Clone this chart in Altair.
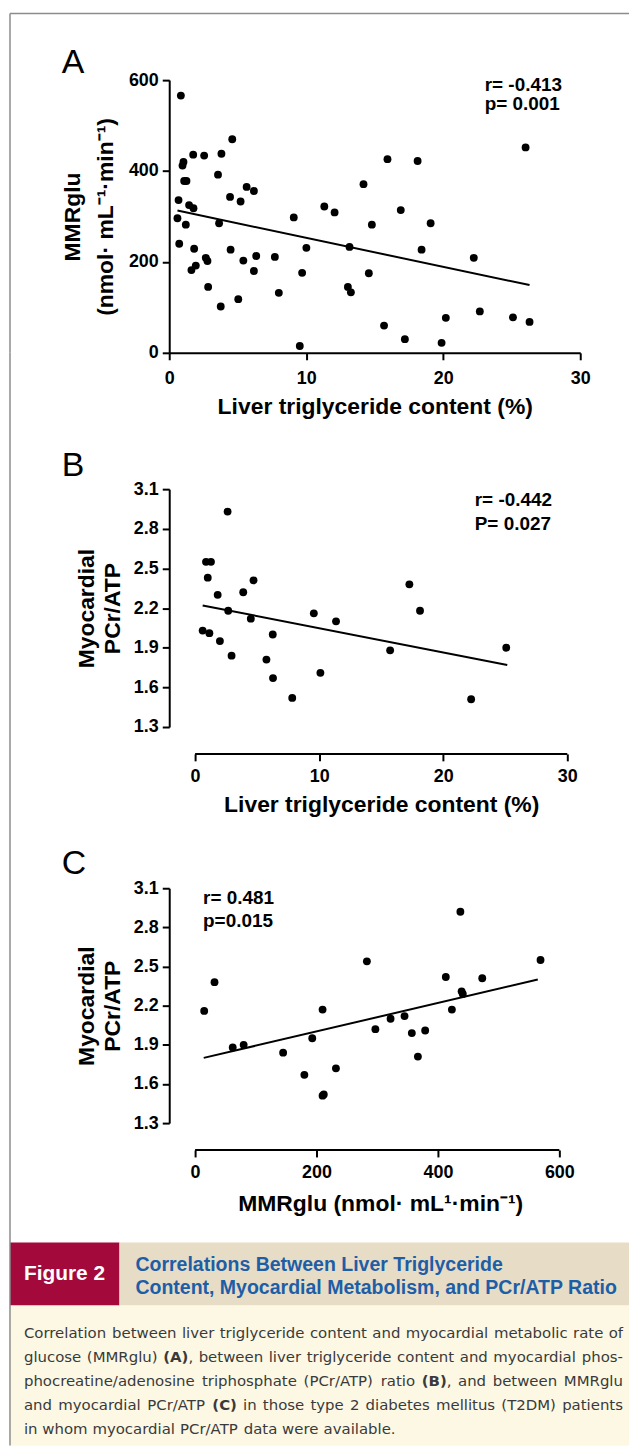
import re
import altair as alt
import pandas as pd

FONT = "Liberation Sans"
CAP_FONT = "DejaVu Sans"

# ---------------- Panel A: liver TG content vs MMRglu ----------------
a_liver_tg = [0.85, 0.68, 0.60, 0.73, 0.97, 1.04, 1.09, 1.26, 1.45, 1.77,
              1.21, 1.75, 1.82, 1.62, 1.94, 2.55, 2.67, 2.79, 2.84, 3.56,
              3.64, 3.81, 3.76, 4.44, 4.48, 4.60, 5.04, 5.21, 5.41, 5.65,
              6.18, 6.18, 6.35, 7.71, 8.00, 9.09, 9.53, 9.70, 10.01, 11.32,
              12.07, 13.16, 13.04, 13.26, 14.18, 14.57, 14.79, 15.68, 15.93, 16.90,
              17.20, 18.13, 18.42, 19.08, 19.88, 20.19, 22.23, 22.67, 25.09, 26.01,
              26.30]
a_mmrglu = [566, 336, 296, 240, 412, 420, 378, 378, 325, 318,
            282, 436, 229, 182, 192, 434, 209, 202, 145, 392,
            285, 438, 102, 343, 227, 470, 118, 333, 203, 365,
            356, 180, 213, 211, 132, 298, 15, 176, 231, 322,
            309, 233, 145, 133, 371, 175, 282, 60, 426, 314,
            30, 422, 227, 285, 22, 77, 209, 91, 78, 452,
            68]
a_fit_x = [0.6, 26.3]
a_fit_y = [313, 149]
a_stats = ["r= -0.413", "p= 0.001"]

# ---------------- Panel B: liver TG content vs PCr/ATP ----------------
b_liver_tg = [0.61, 1.15, 0.88, 1.28, 1.02, 1.82, 2.00, 2.62, 2.67, 2.94,
              3.88, 4.49, 4.71, 5.75, 6.26, 6.28, 7.83, 9.57, 10.10, 11.36,
              15.72, 17.27, 18.13, 22.25, 25.08]
b_pcr_atp = [2.03, 2.01, 2.55, 2.55, 2.43, 2.30, 1.95, 2.93, 2.18, 1.84,
             2.32, 2.12, 2.41, 1.81, 2.00, 1.67, 1.52, 2.16, 1.71, 2.10,
             1.88, 2.38, 2.18, 1.51, 1.90]
b_fit_x = [0.61, 25.16]
b_fit_y = [2.22, 1.77]
b_stats = ["r= -0.442", "P= 0.027"]

# ---------------- Panel C: MMRglu vs PCr/ATP ----------------
c_mmrglu = [15, 32, 62, 80, 145, 180, 193, 210, 210, 212, 232, 283, 297,
            322, 345, 357, 367, 379, 413, 423, 437, 439, 441, 473, 569]
c_pcr_atp = [2.16, 2.38, 1.88, 1.90, 1.84, 1.67, 1.95, 2.17, 1.51, 1.52, 1.72,
             2.54, 2.02, 2.10, 2.12, 1.99, 1.81, 2.01, 2.42, 2.17, 2.92,
             2.31, 2.29, 2.41, 2.55]
c_fit_x = [14.2, 564.5]
c_fit_y = [1.80, 2.40]
c_stats = ["r= 0.481", "p=0.015"]

pcr_ticks = [1.3, 1.6, 1.9, 2.2, 2.5, 2.8, 3.1]
tg_ticks = [0, 10, 20, 30]
mmr_ticks = [0, 200, 400, 600]

# ---------------- Caption ----------------
fig_label = "Figure 2"
fig_title = ["Correlations Between Liver Triglyceride",
             "Content, Myocardial Metabolism, and PCr/ATP Ratio"]
caption_lines = [
    [("Correlation between liver triglyceride content and myocardial metabolic rate of", False)],
    [("glucose (MMRglu) ", False), ("(A)", True),
     (", between liver triglyceride content and myocardial phos-", False)],
    [("phocreatine/adenosine triphosphate (PCr/ATP) ratio ", False), ("(B)", True),
     (", and between MMRglu", False)],
    [("and myocardial PCr/ATP ", False), ("(C)", True),
     (" in those type 2 diabetes mellitus (T2DM) patients", False)],
    [("in whom myocardial PCr/ATP data were available.", False)],
]

# DejaVu Sans advance widths (per 1000 em) used to lay out the caption runs
W_REG = {' ': 318, '(': 390, ')': 390, '/': 337, '-': 361, ',': 318, '.': 318,
         'a': 613, 'b': 635, 'c': 550, 'd': 635, 'e': 615, 'f': 352, 'g': 635, 'h': 634,
         'i': 278, 'j': 278, 'k': 579, 'l': 278, 'm': 974, 'n': 634, 'o': 612, 'p': 635,
         'q': 635, 'r': 411, 's': 521, 't': 392, 'u': 634, 'v': 592, 'w': 818, 'x': 592,
         'y': 592, 'z': 525, 'A': 684, 'B': 686, 'C': 698, 'D': 770, 'E': 632, 'F': 575,
         'G': 775, 'H': 752, 'I': 295, 'M': 863, 'N': 748, 'P': 603, 'R': 695, 'S': 635,
         'T': 611, '2': 636}
W_BOLD = {'(': 457, ')': 457, 'A': 774, 'B': 762, 'C': 734}


def text_width(s, size, bold):
    table = W_BOLD if bold else W_REG
    return sum(table.get(ch, 620) for ch in s) * size / 1000.0


one = pd.DataFrame({"k": [0]})
BORDER = "#8c8c8c"
LEFT = -160      # left frame edge relative to plot origin (page x 8)
RIGHT = 462      # right content edge relative to plot origin (page x 630)


def axis_style(**kw):
    base = dict(labelFont=FONT, labelFontSize=18, labelFontWeight="bold", labelColor="black",
                titleFont=FONT, titleFontSize=23, titleFontWeight="bold", titleColor="black",
                domainColor="black", domainWidth=2, tickColor="black", tickWidth=2,
                tickSize=7, grid=False, labelFlush=False, labelOverlap=False)
    base.update(kw)
    return alt.Axis(**base)


def stat_layers(lines, x, ys):
    out = []
    for t, y in zip(lines, ys):
        out.append(alt.Chart(one).mark_text(text=t, align="left", baseline="alphabetic",
                                            font=FONT, fontSize=19, fontWeight="bold",
                                            color="black")
                   .encode(x=alt.value(x), y=alt.value(y)))
    return out


def letter_layer(letter, y):
    return (alt.Chart(one).mark_text(text=letter, align="left", baseline="alphabetic",
                                     font=FONT, fontSize=34, color="black")
            .encode(x=alt.value(-108), y=alt.value(y)))


def frame_rule(y1, y2):
    return (alt.Chart(one).mark_rule(color=BORDER, strokeWidth=1.5)
            .encode(x=alt.value(LEFT), y=alt.value(y1), y2=alt.value(y2)))


# ---------------- Panel A chart (cell top = page y 8) ----------------
WA, GA, HA = 413, 67, 274
CA = GA + HA
dfA = pd.DataFrame({"x": a_liver_tg, "y": a_mmrglu})
fitA = pd.DataFrame({"x": a_fit_x, "y": a_fit_y})
xA = alt.X("x:Q", scale=alt.Scale(domain=[0, 30], nice=False, zero=False),
           axis=axis_style(values=tg_ticks, title="Liver triglyceride content (%)",
                           labelBaseline="alphabetic", labelPadding=24,
                           titleBaseline="alphabetic", titleY=61))
yA = alt.Y("y:Q", scale=alt.Scale(domain=[0, 600], range=[CA, GA], nice=False, zero=False),
           axis=axis_style(values=mmr_ticks, title=["MMRglu", "(nmol· mL⁻¹·min⁻¹)"],
                           labelPadding=4, titleAngle=270, titleX=-97, titleY=GA + HA / 2,
                           titleAlign="center", titleBaseline="middle", titleLineHeight=33))
ptsA = alt.Chart(dfA).mark_circle(size=62, color="black", opacity=1).encode(x=xA, y=yA)
lineA = alt.Chart(fitA).mark_line(color="black", strokeWidth=2).encode(x="x:Q", y="y:Q")
chartA = alt.layer(
    ptsA, lineA, *stat_layers(a_stats, 317, [78, 97]), letter_layer("A", 60),
    frame_rule(0, CA),
    alt.Chart(one).mark_rule(color=BORDER, strokeWidth=1.5)
    .encode(x=alt.value(LEFT), x2=alt.value(RIGHT), y=alt.value(0)),
).properties(width=WA, height=CA)

# ---------------- Panel B chart (cell top = page y 349) ----------------
WB, GB, HB, OFFB = 400, 137, 239, 27
CB = GB + HB
dfB = pd.DataFrame({"x": b_liver_tg, "y": b_pcr_atp})
fitB = pd.DataFrame({"x": b_fit_x, "y": b_fit_y})
xB = alt.X("x:Q", scale=alt.Scale(domain=[-2.085, 30], nice=False, zero=False),
           axis=axis_style(values=tg_ticks, title="Liver triglyceride content (%)",
                           domain=False, offset=OFFB, labelBaseline="alphabetic",
                           labelPadding=21, titleBaseline="alphabetic", titleY=58, titleX=213))
yB = alt.Y("y:Q", scale=alt.Scale(domain=[1.3, 3.1], range=[CB, GB], nice=False, zero=False),
           axis=axis_style(values=pcr_ticks, format=".1f", title=["Myocardial", "PCr/ATP"],
                           labelPadding=4, titleAngle=270, titleX=-83, titleY=GB + HB / 2,
                           titleAlign="center", titleBaseline="middle", titleLineHeight=26))
ptsB = alt.Chart(dfB).mark_circle(size=62, color="black", opacity=1).encode(x=xB, y=yB)
lineB = alt.Chart(fitB).mark_line(color="black", strokeWidth=2).encode(x="x:Q", y="y:Q")
axlineB = (alt.Chart(one).mark_rule(color="black", strokeWidth=2)
           .encode(x=alt.datum(tg_ticks[0]), x2=alt.datum(tg_ticks[-1]), y=alt.value(CB + OFFB)))
chartB = alt.layer(
    ptsB, lineB, axlineB, *stat_layers(b_stats, 307, [154, 178]), letter_layer("B", 124),
    frame_rule(0, CB),
).properties(width=WB, height=CB)

# ---------------- Panel C chart (cell top = page y 725) ----------------
WC, GC, HC, OFFC = 392, 162, 236, 27
CC = GC + HC
dfC = pd.DataFrame({"x": c_mmrglu, "y": c_pcr_atp})
fitC = pd.DataFrame({"x": c_fit_x, "y": c_fit_y})
xC = alt.X("x:Q", scale=alt.Scale(domain=[-42.6, 600], nice=False, zero=False),
           axis=axis_style(values=mmr_ticks, title="MMRglu (nmol· mL¹·min⁻¹)",
                           domain=False, offset=OFFC, labelBaseline="alphabetic",
                           labelPadding=21, titleBaseline="alphabetic", titleY=61, titleX=212))
yC = alt.Y("y:Q", scale=alt.Scale(domain=[1.3, 3.1], range=[CC, GC], nice=False, zero=False),
           axis=axis_style(values=pcr_ticks, format=".1f", title=["Myocardial", "PCr/ATP"],
                           labelPadding=4, titleAngle=270, titleX=-83, titleY=GC + HC / 2,
                           titleAlign="center", titleBaseline="middle", titleLineHeight=26))
ptsC = alt.Chart(dfC).mark_circle(size=62, color="black", opacity=1).encode(x=xC, y=yC)
lineC = alt.Chart(fitC).mark_line(color="black", strokeWidth=2).encode(x="x:Q", y="y:Q")
axlineC = (alt.Chart(one).mark_rule(color="black", strokeWidth=2)
           .encode(x=alt.datum(mmr_ticks[0]), x2=alt.datum(mmr_ticks[-1]), y=alt.value(CC + OFFC)))
chartC = alt.layer(
    ptsC, lineC, axlineC, *stat_layers(c_stats, 34, [178, 201]), letter_layer("C", 148),
    frame_rule(0, CC),
).properties(width=WC, height=CC)

# ---------------- Caption chart (cell top = page y 1123) ----------------
GCAP = 120
BAND = 63
HCAP = 324
SPLIT = -50
CAP_SIZE = 15
CAP_X0 = -146.0
CAP_X1 = 456.0   # justified right edge


def box(x1, x2, y1, y2, color):
    return (alt.Chart(one).mark_rect(color=color)
            .encode(x=alt.value(x1), x2=alt.value(x2), y=alt.value(y1), y2=alt.value(y2)))


rows = []
for i, line in enumerate(caption_lines):
    pieces = []
    for txt, bold in line:
        for p in re.findall(r"\s+|\S+", txt):
            pieces.append((p, bold))
    natural = sum(text_width(p, CAP_SIZE, b) for p, b in pieces)
    n_space = sum(1 for p, _ in pieces if p.isspace())
    justify = i < len(caption_lines) - 1 and n_space > 0
    extra = (CAP_X1 - CAP_X0 - natural) / n_space if justify else 0.0
    extra = max(extra, 0.0)
    xpos = CAP_X0
    for p, b in pieces:
        if p.isspace():
            xpos += text_width(p, CAP_SIZE, False) + extra
        else:
            rows.append({"t": p, "x": xpos, "y": GCAP + 96 + 24 * i, "b": b})
            xpos += text_width(p, CAP_SIZE, b)
capdf = pd.DataFrame(rows)

cap_reg = (alt.Chart(capdf).transform_filter("!datum.b")
           .mark_text(align="left", baseline="alphabetic", font=CAP_FONT, fontSize=CAP_SIZE,
                      color="#3a3a3a")
           .encode(x=alt.X("x:Q", scale=None), y=alt.Y("y:Q", scale=None), text="t:N"))
cap_bold = (alt.Chart(capdf).transform_filter("datum.b")
            .mark_text(align="left", baseline="alphabetic", font=CAP_FONT, fontSize=CAP_SIZE,
                       fontWeight="bold", color="#3a3a3a")
            .encode(x=alt.X("x:Q", scale=None), y=alt.Y("y:Q", scale=None), text="t:N"))

title_layers = []
for j, t in enumerate(fig_title):
    title_layers.append(
        alt.Chart(one).mark_text(text=t, align="left", baseline="alphabetic", font=FONT,
                                 fontSize=19.6, fontWeight="bold", color="#1d5ea6")
        .encode(x=alt.value(-34), y=alt.value(GCAP + 29 + 23 * j)))

caption = alt.layer(
    box(LEFT, RIGHT, GCAP + BAND, HCAP, "#fcf8e4"),
    box(LEFT, SPLIT, GCAP, GCAP + BAND, "#a3093a"),
    box(SPLIT, RIGHT, GCAP, GCAP + BAND, "#e7dcc6"),
    alt.Chart(one).mark_text(text=fig_label, align="left", baseline="alphabetic", font=FONT,
                             fontSize=21, fontWeight="bold", color="white")
    .encode(x=alt.value(-146), y=alt.value(GCAP + 38)),
    *title_layers,
    cap_reg, cap_bold,
    frame_rule(0, HCAP),
).properties(width=WC, height=HCAP)

chart = (alt.vconcat(chartA, chartB, chartC, caption, spacing=0, bounds="flush")
         .configure_view(stroke="transparent")
         .properties(padding=0, background="white"))

chart.save("out.html", embed_options={"renderer": "svg", "actions": False})
